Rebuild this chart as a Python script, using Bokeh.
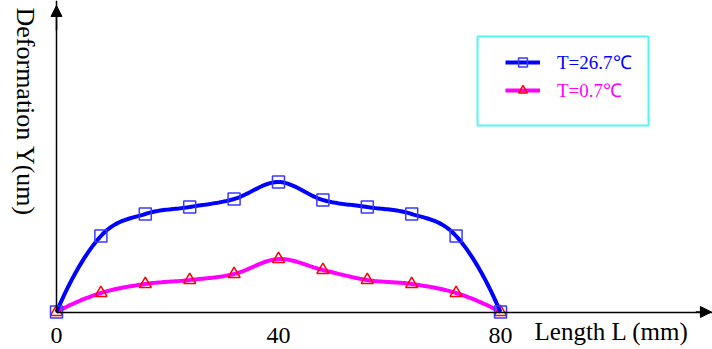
import numpy as np
from bokeh.plotting import figure
from bokeh.models import (FixedTicker, Label, Legend, LegendItem, Arrow,
                          NormalHead, BoxAnnotation, Range1d)
from bokeh.embed import file_html
from bokeh.resources import INLINE

# ---------------- data ----------------
length_mm = [0, 8, 16, 24, 32, 40, 48, 56, 64, 72, 80]
deform_t26_7 = [0, 7.6, 9.8, 10.5, 11.3, 13.0, 11.2, 10.5, 9.8, 7.6, 0]
deform_t0_7 = [0, 1.9, 2.8, 3.2, 3.8, 5.3, 4.2, 3.2, 2.8, 1.9, 0]
x_ticks = [0, 40, 80]
series_labels = ["T=26.7℃", "T=0.7℃"]
x_title = "Length L (mm)"
y_title = "Deformation Y(um)"

# ---------------- layout constants ----------------
W, H = 712, 349
X_LO, X_HI = -10.09, 118.2
Y_LO, Y_HI = -3.75, 31.15
FONT = "Liberation Serif"
BLUE, MAGENTA = "#0000FF", "#FF00FF"


def spline_path(xs, ys, steps=24):
    """Smooth drawing path (cubic Hermite / Catmull-Rom) through the points."""
    xs = np.asarray(xs, float)
    ys = np.asarray(ys, float)
    n = len(ys)
    m = np.zeros(n)
    m[1:-1] = (ys[2:] - ys[:-2]) / 2.0
    m[0] = 2 * (ys[1] - ys[0]) - m[1]
    m[-1] = 2 * (ys[-1] - ys[-2]) - m[-2]
    t = np.linspace(0, 1, steps, endpoint=False)
    h00 = 2 * t**3 - 3 * t**2 + 1
    h10 = t**3 - 2 * t**2 + t
    h01 = -2 * t**3 + 3 * t**2
    h11 = t**3 - t**2
    px, py = [], []
    for i in range(n - 1):
        px.extend(xs[i] + t * (xs[i + 1] - xs[i]))
        py.extend(h00 * ys[i] + h10 * m[i] + h01 * ys[i + 1] + h11 * m[i + 1])
    px.append(xs[-1])
    py.append(ys[-1])
    return px, py


p = figure(width=W, height=H, x_range=Range1d(X_LO, X_HI),
           y_range=Range1d(Y_LO, Y_HI), output_backend="svg",
           toolbar_location=None, title=None, min_border=0)
p.outline_line_color = None
p.grid.visible = False
p.background_fill_color = "white"

# axes drawn at the data origin
xa = p.xaxis[0]
xa.fixed_location = 0
xa.bounds = (0, X_HI)
xa.ticker = FixedTicker(ticks=x_ticks)
xa.major_tick_line_color = None
xa.minor_tick_line_color = None
xa.major_tick_in = 0
xa.major_tick_out = 0
xa.major_label_standoff = 16
xa.major_label_text_font = FONT
xa.major_label_text_font_size = "24px"
xa.major_label_text_color = "black"
xa.axis_line_width = 1.5
xa.axis_line_color = "black"

ya = p.yaxis[0]
ya.fixed_location = 0
ya.bounds = (0, Y_HI)
ya.ticker = FixedTicker(ticks=[])
ya.major_label_text_font_size = "0px"
ya.major_tick_line_color = None
ya.minor_tick_line_color = None
ya.major_tick_in = 0
ya.major_tick_out = 0
ya.axis_line_width = 1.5
ya.axis_line_color = "black"

# arrow heads at the axis ends
p.add_layout(Arrow(end=NormalHead(size=11, fill_color="black", line_color="black"),
                   x_start=X_HI - 3, y_start=0, x_end=X_HI - 0.2, y_end=0,
                   line_color="black", line_width=1.5))
p.add_layout(Arrow(end=NormalHead(size=11, fill_color="black", line_color="black"),
                   x_start=0, y_start=Y_HI - 3, x_end=0, y_end=Y_HI - 0.5,
                   line_color="black", line_width=1.5))

# series
mx, my = spline_path(length_mm, deform_t0_7)
mag_line = p.line(mx, my, line_color=MAGENTA, line_width=4)
mag_pts = p.scatter(length_mm, deform_t0_7, marker="triangle", size=12,
                    line_color="#FF0000", line_width=1.5, fill_color=None)
bx, by = spline_path(length_mm, deform_t26_7)
blue_line = p.line(bx, by, line_color=BLUE, line_width=4)
blue_pts = p.scatter(length_mm, deform_t26_7, marker="square", size=12,
                     line_color="#3838FF", line_width=1.5, fill_color=None)

# axis titles
p.add_layout(Label(x=86.13, y=-1.95, text=x_title, text_font=FONT,
                   text_font_size="25px", text_color="black",
                   text_align="left", text_baseline="middle"))
p.add_layout(Label(x=-5.59, y=30.45, text=y_title, text_font=FONT,
                   text_font_size="26px", text_color="black",
                   angle=-np.pi / 2, text_align="left", text_baseline="middle"))

# legend frame
p.add_layout(BoxAnnotation(left=75.86, right=106.67, top=27.55, bottom=18.65,
                           fill_color="white", fill_alpha=1.0,
                           line_color="#55F5F5", line_alpha=1.0, line_width=2))


def make_legend(label, renderers, color, loc):
    leg = Legend(items=[LegendItem(label=label, renderers=renderers)],
                 location=loc, orientation="vertical", padding=0, margin=0,
                 spacing=0, border_line_color=None, background_fill_alpha=0,
                 glyph_width=35, glyph_height=22, label_height=22,
                 label_standoff=17, label_text_font=FONT,
                 label_text_font_size="19px", label_text_color=color)
    p.add_layout(leg)


make_legend(series_labels[0], [blue_line, blue_pts], BLUE, (505, 274))
make_legend(series_labels[1], [mag_line, mag_pts], MAGENTA, (505, 246))

open("out.html", "w").write(file_html(p, INLINE))
